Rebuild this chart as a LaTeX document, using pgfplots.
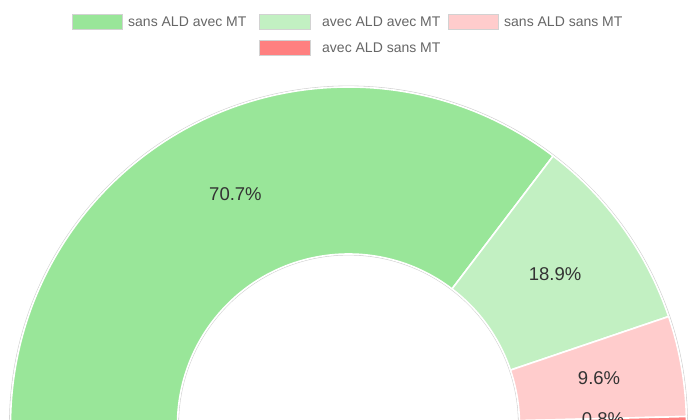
\documentclass[border=0pt]{standalone}
\usepackage{pgfplots}
\usepackage{pgfplotstable}
\usepackage{fontspec}
\setmainfont{Liberation Sans}
\pgfplotsset{compat=1.18}

\definecolor{cA}{HTML}{99E699}
\definecolor{cB}{HTML}{C2F0C2}
\definecolor{cC}{HTML}{FFCCCC}
\definecolor{cD}{HTML}{FF8080}
\definecolor{txt}{HTML}{333333}
\definecolor{leg}{HTML}{666666}

% part of each group, in percent
\pgfplotstableread[col sep=comma]{
label,value
sans ALD avec MT,70.7
avec ALD avec MT,18.9
sans ALD sans MT,9.6
avec ALD sans MT,0.8
}\donut

\begin{document}
\begin{tikzpicture}
% half donut: 180 degrees shared out by value, clockwise from the left
\pgfplotstablegetelem{0}{value}\of\donut \let\vA\pgfplotsretval
\pgfplotstablegetelem{1}{value}\of\donut \let\vB\pgfplotsretval
\pgfplotstablegetelem{2}{value}\of\donut \let\vC\pgfplotsretval
\pgfplotstablegetelem{3}{value}\of\donut \let\vD\pgfplotsretval
\pgfmathsetmacro\tot{\vA+\vB+\vC+\vD}
\pgfmathsetmacro\aA{180}
\pgfmathsetmacro\aB{\aA-180*\vA/\tot}
\pgfmathsetmacro\aC{\aB-180*\vB/\tot}
\pgfmathsetmacro\aD{\aC-180*\vC/\tot}
\pgfmathsetmacro\aE{\aD-180*\vD/\tot}
\def\Ro{338pt}
\def\Ri{171pt}
\def\Rm{254.5pt}
\begin{axis}[
    width=688pt, height=420pt, scale only axis,
    xmin=0, xmax=688, ymin=0, ymax=420,
    hide axis, clip=true,
  ]
  \coordinate (c) at (axis cs:348.5,-5);
  % outer shadow line
  \draw[gray!35, line width=0.8pt] ([shift={(180:\Ro+1pt)}]c) arc[start angle=180, end angle=0, radius=\Ro+1pt];
  \draw[gray!35, line width=0.8pt] ([shift={(180:\Ri-1pt)}]c) arc[start angle=180, end angle=0, radius=\Ri-1pt];
  \foreach \s/\e/\col in {\aA/\aB/cA, \aB/\aC/cB, \aC/\aD/cC, \aD/\aE/cD} {
    \edef\tmp{\noexpand\filldraw[fill=\col, draw=white, line width=1.6pt, line join=round]
      ([shift={(\s:\Ro)}]c) arc[start angle=\s, end angle=\e, radius=\Ro]
      -- ([shift={(\e:\Ri)}]c) arc[start angle=\e, end angle=\s, radius=\Ri] -- cycle;}
    \tmp
  }
  \foreach \s/\e/\v in {\aA/\aB/\vA, \aB/\aC/\vB, \aC/\aD/\vC, \aD/\aE/\vD} {
    \pgfmathsetmacro\mid{(\s+\e)/2}
    \edef\tmp{\noexpand\node[text=txt, yshift=2.5pt, font=\noexpand\fontsize{18.5}{20}\noexpand\selectfont]
      at ([shift={(\mid:\Rm)}]c) {\v\noexpand\%};}
    \tmp
  }
  % legend
  \tikzset{lbox/.style={draw=gray!35, line width=0.6pt}, ltxt/.style={anchor=west, text=leg, inner sep=0pt, font=\fontsize{14}{16}\selectfont}}
  \filldraw[lbox, fill=cA] (axis cs:72,390.5) rectangle (axis cs:122,405.5);
  \node[ltxt] at (axis cs:128,398) {sans ALD avec MT};
  \filldraw[lbox, fill=cB] (axis cs:259,390.5) rectangle (axis cs:310,405.5);
  \node[ltxt] at (axis cs:322,398) {avec ALD avec MT};
  \filldraw[lbox, fill=cC] (axis cs:448,390.5) rectangle (axis cs:498,405.5);
  \node[ltxt] at (axis cs:504,398) {sans ALD sans MT};
  \filldraw[lbox, fill=cD] (axis cs:259,364.5) rectangle (axis cs:310,379.5);
  \node[ltxt] at (axis cs:322,372) {avec ALD sans MT};
\end{axis}
\pgfresetboundingbox
\path (current axis.south west) rectangle (current axis.north east);
\end{tikzpicture}
\end{document}
